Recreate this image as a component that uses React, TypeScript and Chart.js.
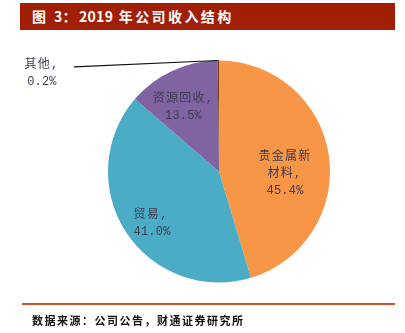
import React, { useEffect, useRef } from "react";
import { Chart, registerables } from "chart.js";

Chart.register(...registerables);

const categories = ["贵金属新材料", "贸易", "资源回收", "其他"];
const values = [45.4, 41.0, 13.5, 0.2];
const labelLines = [["贵金属新", "材料,", "45.4%"], ["贸易,", "41.0%"], ["资源回收,", "13.5%"], ["其他,", "0.2%"]];
const colors = ["#F79646", "#4BACC6", "#8064A2", "#7A3B1A"];

// label placement (relative to pie center, in radius units) and alignment
const labelPos = [
  { dx: 0.595, dy: 0.02, align: "center" },
  { dx: -0.77, dy: 0.47, align: "left" },
  { dx: -0.32, dy: -0.58, align: "center" },
  { dx: -1.595, dy: -0.88, align: "center" },
];

const labelPlugin = {
  id: "pieLabels",
  afterDatasetsDraw(chart: any) {
    const ctx = chart.ctx;
    const meta = chart.getDatasetMeta(0);
    const arc0 = meta.data[0];
    const cx = arc0.x, cy = arc0.y, r = arc0.outerRadius;
    ctx.save();
    ctx.font = "12px 'Liberation Mono', 'Noto Sans CJK SC'";
    ctx.fillStyle = "#3c3c52";
    ctx.textBaseline = "middle";
    const lh = 17;
    labelLines.forEach((lines, i) => {
      const p = labelPos[i];
      const x = cx + p.dx * r;
      const y0 = cy + p.dy * r - ((lines.length - 1) * lh) / 2;
      ctx.textAlign = p.align;
      lines.forEach((t, j) => {
        const cjk = /[\u4e00-\u9fff]/.test(t);
        ctx.letterSpacing = cjk ? "1.3px" : "0.2px";
        ctx.fillText(t, x, y0 + j * lh);
      });
    });
    ctx.letterSpacing = "0px";
    // leader line for the small slice
    const small = meta.data[3];
    const mid = (small.startAngle + small.endAngle) / 2;
    const ex = cx + Math.cos(mid) * r;
    const ey = cy + Math.sin(mid) * r;
    const lp = labelPos[3];
    ctx.beginPath();
    ctx.strokeStyle = "#111";
    ctx.lineWidth = 1.2;
    ctx.moveTo(cx + lp.dx * r + 32, cy + lp.dy * r - 7);
    ctx.lineTo(ex, ey);
    ctx.stroke();
    ctx.restore();
  },
};

export default function App() {
  const ref = useRef<HTMLCanvasElement>(null);
  useEffect(() => {
    const chart = new Chart(ref.current!, {
      type: "pie",
      data: {
        labels: categories,
        datasets: [{ data: values, backgroundColor: colors, borderWidth: 0 }],
      },
      options: {
        animation: false,
        responsive: false,
        layout: { padding: { top: 60.5, bottom: 50.5, left: 108, right: 75 } },
        plugins: { legend: { display: false }, tooltip: { enabled: false } },
      },
      plugins: [labelPlugin],
    });
    return () => chart.destroy();
  }, []);
  const num = { letterSpacing: 0.3 };
  return (
    <div style={{ position: "fixed", left: 0, top: 0, width: 405, height: 333, background: "#fff" }}>
      <canvas ref={ref} width={405} height={333} style={{ position: "absolute", left: 0, top: 0 }} />
      <div
        style={{
          position: "absolute", left: 20, top: 3, width: 375, height: 27, background: "#A11F05",
          color: "#fff", fontFamily: "'Noto Sans CJK SC', sans-serif", fontWeight: 700, fontSize: 14,
          lineHeight: "27px", paddingLeft: 12, boxSizing: "border-box", letterSpacing: 2.4,
        }}
      >
        图 <span style={num}>3</span>：<span style={num}>2019</span> 年公司收入结构
      </div>
      <div style={{ position: "absolute", left: 22, top: 303, width: 373, height: 2, background: "#D4532E" }} />
      <div
        style={{
          position: "absolute", left: 32, top: 311, fontFamily: "'Noto Sans CJK SC', sans-serif",
          fontWeight: 700, fontSize: 11, lineHeight: "18px", color: "#111", letterSpacing: 1.5,
        }}
      >
        数据来源：公司公告，财通证券研究所
      </div>
    </div>
  );
}
